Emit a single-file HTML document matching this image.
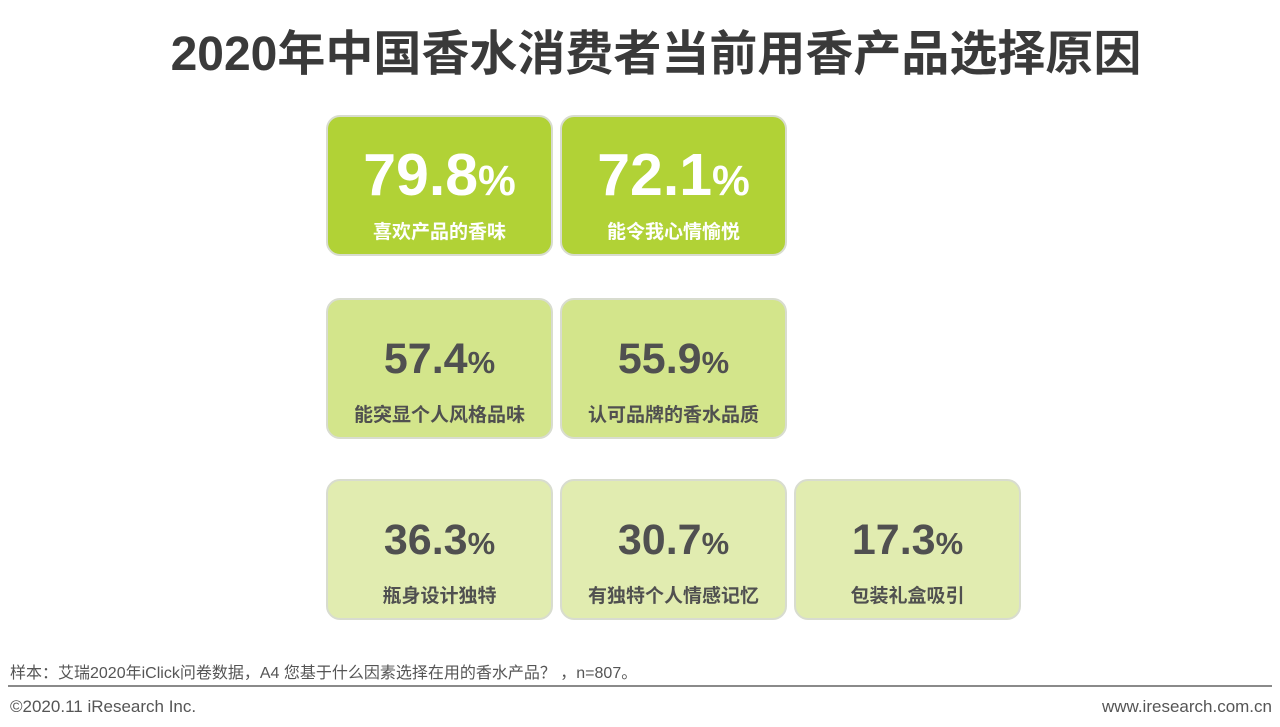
<!DOCTYPE html>
<html><head><meta charset="utf-8"><style>
body{margin:0;width:1280px;height:727px;background:#fff;position:relative;overflow:hidden;font-family:"Liberation Sans","Noto Sans CJK SC",sans-serif;}
.title{position:absolute;left:0;width:1312px;top:14px;text-align:center;font-size:48px;font-weight:bold;color:#3a3a3a;}
.box{position:absolute;width:223px;height:137px;border:2px solid #d8dccf;border-radius:14px;text-align:center;}
.num{position:absolute;left:0;right:0;font-weight:bold;}
.num small{font-size:0.72em;}
.lab{position:absolute;left:0;right:0;font-size:19px;font-weight:bold;}
.note{position:absolute;left:10px;top:659px;font-size:16px;color:#555;}
.line{position:absolute;left:8px;width:1264px;top:685px;height:2px;background:#8a8a8a;}
.copy{position:absolute;left:10px;top:697px;font-size:17px;color:#555;}
.web{position:absolute;right:8px;top:697px;font-size:17px;color:#555;}
</style></head><body>
<div class="title">2020年中国香水消费者当前用香产品选择原因</div>
<div id="cards"></div>
<div class="note">样本：艾瑞2020年iClick问卷数据，A4 您基于什么因素选择在用的香水产品？ ，n=807。</div>
<div class="line"></div>
<div class="copy">©2020.11 iResearch Inc.</div>
<div class="web">www.iresearch.com.cn</div>
<script>
const reasons=["喜欢产品的香味","能令我心情愉悦","能突显个人风格品味","认可品牌的香水品质","瓶身设计独特","有独特个人情感记忆","包装礼盒吸引"];
const values=[79.8,72.1,57.4,55.9,36.3,30.7,17.3];
const slots=[[0,0],[0,1],[1,0],[1,1],[2,0],[2,1],[2,2]];
const rowTop=[115,298,479],colLeft=[326,560,794];
const styles=[{bg:"#b1d236",c:"#fff",fs:59,t:24},{bg:"#d3e58b",c:"#505050",fs:43,t:35},{bg:"#e1ecb0",c:"#505050",fs:43,t:35}];
const wrap=document.getElementById('cards');
values.forEach((v,i)=>{
  const [r,c]=slots[i];const s=styles[r];
  const b=document.createElement('div');
  b.className='box';
  
  
  b.style.left=colLeft[c]+'px';b.style.top=rowTop[r]+'px';b.style.background=s.bg;
  const n=document.createElement('div');
  n.className='num';
  
  
  n.style.fontSize=s.fs+'px';n.style.color=s.c;n.style.top=s.t+'px';
  n.innerHTML=v.toFixed(1)+'<small>%</small>';
  const l=document.createElement('div');
  l.className='lab';
  
  
  l.style.color=s.c;l.style.top='100px';
  l.textContent=reasons[i];
  b.appendChild(n);b.appendChild(l);wrap.appendChild(b);
});
</script>
</body></html>
